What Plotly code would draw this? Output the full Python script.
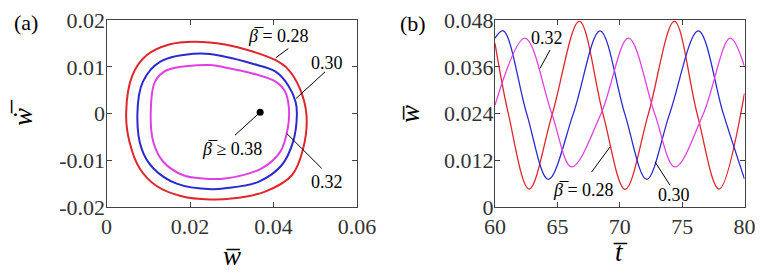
import plotly.graph_objects as go

# ---------------- data: panel (a) phase portraits ----------------
w_red = [0.0047, 0.0062, 0.0096, 0.0150, 0.0210, 0.0284, 0.0350, 0.0404, 0.0435, 0.0463, 0.0479,
         0.0471, 0.0444, 0.0380, 0.0300, 0.0248, 0.0180, 0.0120, 0.0080, 0.0055]
wd_red = [0.0000, 0.0082, 0.0125, 0.0148, 0.0154, 0.0148, 0.0133, 0.0115, 0.0095, 0.0054, -0.0003,
          -0.0075, -0.0132, -0.0167, -0.0182, -0.0184, -0.0177, -0.0155, -0.0118, -0.0060]

w_blue = [0.0074, 0.0087, 0.0128, 0.0224, 0.0284, 0.0350, 0.0405, 0.0435, 0.0453, 0.0456,
          0.0447, 0.0420, 0.0364, 0.0284, 0.0252, 0.0168, 0.0112, 0.0084]
wd_blue = [0.0000, 0.0068, 0.0111, 0.0129, 0.0122, 0.0107, 0.0090, 0.0061, 0.0025, -0.0003,
           -0.0060, -0.0110, -0.0146, -0.0160, -0.0162, -0.0150, -0.0117, -0.0075]

w_mag = [0.0106, 0.0116, 0.0144, 0.0248, 0.0284, 0.0350, 0.0406, 0.0428, 0.0437, 0.0434,
         0.0416, 0.0372, 0.0284, 0.0230, 0.0184, 0.0136, 0.0112]
wd_mag = [0.0004, 0.0068, 0.0093, 0.0104, 0.0099, 0.0086, 0.0068, 0.0047, 0.0011, -0.0032,
          -0.0082, -0.0117, -0.0139, -0.0139, -0.0132, -0.0103, -0.0060]

fixed_w = [0.0368]
fixed_wd = [0.0003]

# ---------------- data: panel (b) time histories ----------------
t_red = [60.0, 61.07, 62.73, 64.6, 66.76, 68.65, 70.43, 72.3, 74.38, 76.2, 77.96, 80.0]
y_red = [0.0421, 0.024, 0.0046, 0.024, 0.0477, 0.024, 0.0045, 0.024, 0.0477, 0.024, 0.0046, 0.0292]

t_blue = [60.0, 60.67, 62.54, 64.27, 66.28, 68.42, 70.4, 72.16, 74.0, 76.3, 78.3, 80.0]
y_blue = [0.0434, 0.0453, 0.024, 0.0071, 0.024, 0.0453, 0.024, 0.0071, 0.024, 0.0453, 0.024, 0.0072]

t_mag = [60.0, 62.4, 64.55, 66.15, 68.5, 70.7, 72.8, 74.43, 76.7, 78.85, 80.0]
y_mag = [0.0262, 0.0434, 0.024, 0.0103, 0.024, 0.0434, 0.024, 0.0103, 0.024, 0.0434, 0.0361]

# tick labels
a_xticks = [0, 0.02, 0.04, 0.06]
a_xlabels = ["0", "0.02", "0.04", "0.06"]
a_yticks = [-0.02, -0.01, 0, 0.01, 0.02]
a_ylabels = ["-0.02", "-0.01", "0", "0.01", "0.02"]
b_xticks = [60, 65, 70, 75, 80]
b_xlabels = ["60", "65", "70", "75", "80"]
b_yticks = [0, 0.012, 0.024, 0.036, 0.048]
b_ylabels = ["0", "0.012", "0.024", "0.036", "0.048"]

RED = "#e0262b"
BLUE = "#2a2ad0"
MAG = "#e040e0"
SERIF = "Liberation Serif, Times New Roman, Times, DejaVu Serif, serif"

# the page body has an 8px margin, so the figure is sized to fit the 764x275 window
OFF = 8
W = 764 - OFF
H = 275 - OFF


def px_x(X):
    return (X - OFF) / W


def px_y(Y):
    return 1 - (Y - OFF) / H


def closed(a):
    return list(a) + [a[0]]


fig = go.Figure()
for xs, ys, c in [(w_red, wd_red, RED), (w_blue, wd_blue, BLUE), (w_mag, wd_mag, MAG)]:
    fig.add_trace(go.Scatter(x=closed(xs), y=closed(ys), mode="lines",
                             line=dict(color=c, width=2, shape="spline", smoothing=1.0),
                             xaxis="x", yaxis="y", showlegend=False, hoverinfo="skip"))
fig.add_trace(go.Scatter(x=fixed_w, y=fixed_wd, mode="markers",
                         marker=dict(color="black", size=7), xaxis="x", yaxis="y",
                         showlegend=False, hoverinfo="skip"))

for xs, ys, c in [(t_red, y_red, RED), (t_blue, y_blue, BLUE), (t_mag, y_mag, MAG)]:
    fig.add_trace(go.Scatter(x=xs, y=ys, mode="lines",
                             line=dict(color=c, width=1.3, shape="spline", smoothing=1.0),
                             xaxis="x2", yaxis="y2", showlegend=False, hoverinfo="skip"))

axis_common = dict(showline=True, linecolor="#444", linewidth=1, mirror="ticks",
                   ticks="inside", ticklen=5, tickcolor="#444", tickwidth=1,
                   showgrid=False, zeroline=False, automargin=False,
                   tickfont=dict(family=SERIF, size=22, color="#333"))

ydom = [px_y(207), px_y(20.3)]
fig.update_layout(
    width=W, height=H, margin=dict(l=0, r=0, t=0, b=0),
    plot_bgcolor="white", paper_bgcolor="white",
    font=dict(family=SERIF),
    xaxis=dict(domain=[px_x(106.5), px_x(357)], range=[0, 0.06], anchor="y",
               tickvals=a_xticks, ticktext=a_xlabels, ticklabelstandoff=0, **axis_common),
    yaxis=dict(domain=ydom, range=[-0.02, 0.02], anchor="x",
               tickvals=a_yticks, ticktext=a_ylabels, ticklabelstandoff=-4, **axis_common),
    xaxis2=dict(domain=[px_x(495), px_x(744.5)], range=[60, 80], anchor="y2",
                tickvals=b_xticks, ticktext=b_xlabels, ticklabelstandoff=0, **axis_common),
    yaxis2=dict(domain=ydom, range=[0, 0.048], anchor="x2",
                tickvals=b_yticks, ticktext=b_ylabels, ticklabelstandoff=-4, **axis_common),
)

# leader lines (data coordinates)
leaders = [
    ("x", "y", 0.04355, 0.01396, 0.04053, 0.01195),
    ("x", "y", 0.05234, 0.00895, 0.04539, 0.00325),
    ("x", "y", 0.04316, -0.00424, 0.05155, -0.01173),
    ("x", "y", 0.0368, 0.0003, 0.03078, -0.0046),
    ("x2", "y2", 64.41, 0.04035, 63.61, 0.03564),
    ("x2", "y2", 67.75, 0.00901, 69.22, 0.01545),
    ("x2", "y2", 74.03, 0.00559, 72.83, 0.01159),
]
for xr, yr, x0, y0, x1, y1 in leaders:
    fig.add_shape(type="line", xref=xr, yref=yr, x0=x0, y0=y0, x1=x1, y1=y1,
                  line=dict(color="black", width=1))

BETA = "<i>β\u0305</i>"
labels = [
    ("x", "y", 0.0412, 0.0167, BETA + " = 0.28"),
    ("x", "y", 0.0529, 0.0109, "0.30"),
    ("x", "y", 0.0527, -0.01456, "0.32"),
    ("x", "y", 0.03006, -0.0076, BETA + " ≥ 0.38"),
    ("x2", "y2", 64.15, 0.04357, "0.32"),
    ("x2", "y2", 67.06, 0.0043, BETA + " = 0.28"),
    ("x2", "y2", 74.35, 0.0030, "0.30"),
]
for xr, yr, x, y, txt in labels:
    fig.add_annotation(xref=xr, yref=yr, x=x, y=y, text=txt, showarrow=False,
                       xanchor="center", yanchor="middle",
                       font=dict(family=SERIF, size=18, color="black"))

# panel letters and axis titles (positions in window pixels)
titles = [
    (26, 22, "(a)", 22, 0),
    (413, 23, "(b)", 22, 0),
    (232, 256, "<i>w\u0305</i>", 27, 0),
    (23, 113, "<i>\u1e87\u0305</i>", 27, -90),
    (410, 114, "<i>w\u0305</i>", 27, -90),
    (620, 252, "<i>t\u0305</i>", 27, 0),
]
for px, py, txt, sz, ang in titles:
    fig.add_annotation(xref="paper", yref="paper", x=px_x(px), y=px_y(py), text=txt,
                       showarrow=False, xanchor="center", yanchor="middle", textangle=ang,
                       font=dict(family=SERIF, size=sz, color="black"))

fig.write_html("out.html")
